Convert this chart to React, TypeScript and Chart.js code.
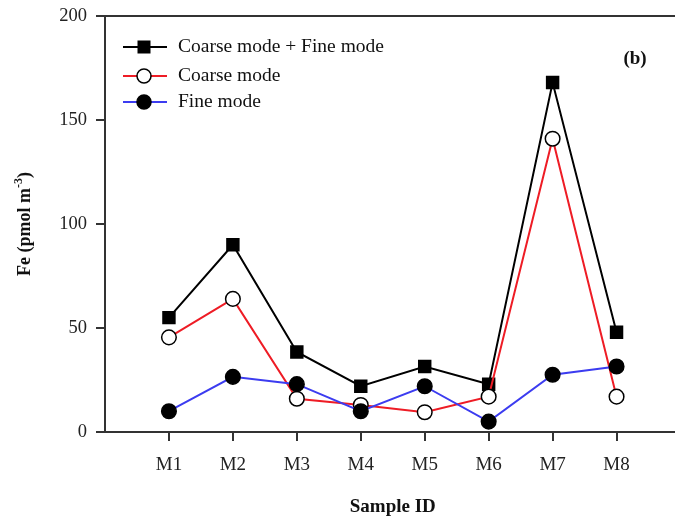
import { useEffect, useRef } from 'react';
import { Chart, registerables } from 'chart.js';

Chart.register(...registerables);

const categories = ['M1', 'M2', 'M3', 'M4', 'M5', 'M6', 'M7', 'M8'];
const totalValues = [55, 90, 38.5, 22, 31.5, 23, 168, 48];
const coarseValues = [45.5, 64, 16, 13, 9.5, 17, 141, 17];
const fineValues = [10, 26.5, 23, 10, 22, 5, 27.5, 31.5];
const yTicks = [0, 50, 100, 150, 200];
const seriesLabels = ['Coarse mode + Fine mode', 'Coarse mode', 'Fine mode'];
const panelLabel = '(b)';
const xTitle = 'Sample ID';
const yTitleMain = 'Fe (pmol m';
const yTitleSup = '-3';
const yTitleEnd = ')';

const SERIF = '"Liberation Serif", "Times New Roman", serif';
const AXIS = '#333333';
const RED = '#ee1c25';
const BLUE = '#3c3cf0';

export default function App() {
  const ref = useRef<HTMLCanvasElement>(null);

  useEffect(() => {
    const canvas = ref.current;
    if (!canvas) return;
    const xs = categories.map((_, i) => i + 1);
    const mk = (vals: number[]) => vals.map((v, i) => ({ x: xs[i], y: v }));

    const decor = {
      id: 'decor',
      afterDraw(chart: any) {
        const { ctx, chartArea: a } = chart;
        ctx.save();
        // top frame line
        ctx.strokeStyle = AXIS;
        ctx.lineWidth = 2;
        ctx.beginPath();
        ctx.moveTo(a.left, a.top);
        ctx.lineTo(a.right, a.top);
        ctx.stroke();

        // legend
        const rows = [a.top + 31, a.top + 60, a.top + 86];
        const lx0 = a.left + 18;
        const lx1 = a.left + 62;
        const mx = a.left + 39;
        const tx = a.left + 73;
        const lineColors = ['#000000', RED, BLUE];
        rows.forEach((y, i) => {
          ctx.strokeStyle = lineColors[i];
          ctx.lineWidth = 2;
          ctx.beginPath();
          ctx.moveTo(lx0, y);
          ctx.lineTo(lx1, y);
          ctx.stroke();
          if (i === 0) {
            ctx.fillStyle = '#000';
            ctx.fillRect(mx - 6.5, y - 6.5, 13, 13);
          } else {
            ctx.beginPath();
            ctx.arc(mx, y, 7, 0, Math.PI * 2);
            ctx.fillStyle = i === 1 ? '#fff' : '#000';
            ctx.fill();
            ctx.lineWidth = 1.5;
            ctx.strokeStyle = '#000';
            ctx.stroke();
          }
          ctx.fillStyle = '#111';
          ctx.font = `19.5px ${SERIF}`;
          ctx.textAlign = 'left';
          ctx.textBaseline = 'middle';
          ctx.fillText(seriesLabels[i], tx, y);
        });

        // panel label
        ctx.font = `bold 19px ${SERIF}`;
        ctx.textAlign = 'center';
        ctx.textBaseline = 'middle';
        ctx.fillStyle = '#111';
        ctx.fillText(panelLabel, 635, a.top + 43);

        // x title
        ctx.font = `bold 19px ${SERIF}`;
        ctx.fillText(xTitle, (a.left + a.right) / 2, 507);

        // y title (rotated)
        ctx.translate(24, (a.top + a.bottom) / 2);
        ctx.rotate(-Math.PI / 2);
        ctx.font = `bold 18px ${SERIF}`;
        const w1 = ctx.measureText(yTitleMain).width;
        ctx.font = `bold 12px ${SERIF}`;
        const w2 = ctx.measureText(yTitleSup).width;
        ctx.font = `bold 18px ${SERIF}`;
        const w3 = ctx.measureText(yTitleEnd).width;
        const total = w1 + w2 + w3;
        let x = -total / 2;
        ctx.textAlign = 'left';
        ctx.textBaseline = 'alphabetic';
        const base = 6;
        ctx.fillText(yTitleMain, x, base);
        x += w1;
        ctx.font = `bold 12px ${SERIF}`;
        ctx.fillText(yTitleSup, x, base - 8);
        x += w2;
        ctx.font = `bold 18px ${SERIF}`;
        ctx.fillText(yTitleEnd, x, base);
        ctx.restore();
      },
    };

    const chart = new Chart(canvas, {
      type: 'line',
      data: {
        datasets: [
          {
            label: seriesLabels[0],
            data: mk(totalValues),
            borderColor: '#000000',
            borderWidth: 2,
            pointStyle: 'rect',
            pointRadius: 9.5,
            pointBackgroundColor: '#000000',
            pointBorderColor: '#000000',
            pointBorderWidth: 0,
            order: 2,
          },
          {
            label: seriesLabels[1],
            data: mk(coarseValues),
            borderColor: RED,
            borderWidth: 2,
            pointStyle: 'circle',
            pointRadius: 7.3,
            pointBackgroundColor: '#ffffff',
            pointBorderColor: '#000000',
            pointBorderWidth: 1.5,
            order: 1,
          },
          {
            label: seriesLabels[2],
            data: mk(fineValues),
            borderColor: BLUE,
            borderWidth: 2,
            pointStyle: 'circle',
            pointRadius: 7.3,
            pointBackgroundColor: '#000000',
            pointBorderColor: '#000000',
            pointBorderWidth: 1.5,
            order: 0,
          },
        ],
      },
      options: {
        animation: false,
        responsive: false,
        maintainAspectRatio: false,
        layout: { padding: { top: 16, right: 9, left: 0, bottom: 0 } },
        plugins: { legend: { display: false }, tooltip: { enabled: false } },
        elements: { line: { tension: 0 } },
        scales: {
          x: {
            type: 'linear',
            min: 0,
            max: 9,
            afterBuildTicks: (scale: any) => {
              scale.ticks = xs.map((v) => ({ value: v }));
            },
            afterFit: (scale: any) => {
              scale.height = 86;
              scale.paddingLeft = 0;
              scale.paddingRight = 0;
            },
            ticks: {
              autoSkip: false,
              maxRotation: 0,
              padding: 13,
              color: '#222',
              font: { family: SERIF, size: 19 },
              callback: (v: any) => categories[Number(v) - 1] ?? '',
            },
            grid: {
              drawOnChartArea: false,
              drawTicks: true,
              tickLength: 9,
              color: AXIS,
              lineWidth: 2,
            },
            border: { display: true, color: AXIS, width: 2 },
          },
          y: {
            min: 0,
            max: 200,
            afterBuildTicks: (scale: any) => {
              scale.ticks = yTicks.map((v) => ({ value: v }));
            },
            afterFit: (scale: any) => {
              scale.width = 105;
              scale.paddingTop = 0;
              scale.paddingBottom = 0;
            },
            ticks: {
              padding: 9,
              color: '#222',
              font: { family: SERIF, size: 18.5 },
            },
            grid: {
              drawOnChartArea: false,
              drawTicks: true,
              tickLength: 9,
              color: AXIS,
              lineWidth: 2,
            },
            border: { display: true, color: AXIS, width: 2 },
          },
        },
      },
      plugins: [decor],
    });
    return () => chart.destroy();
  }, []);

  return (
    <div
      style={{
        position: 'fixed',
        left: 0,
        top: 0,
        width: 675,
        height: 518,
        overflow: 'hidden',
        background: '#ffffff',
      }}
    >
      <canvas ref={ref} width={690} height={518} style={{ display: 'block', width: 690, height: 518 }} />
    </div>
  );
}
